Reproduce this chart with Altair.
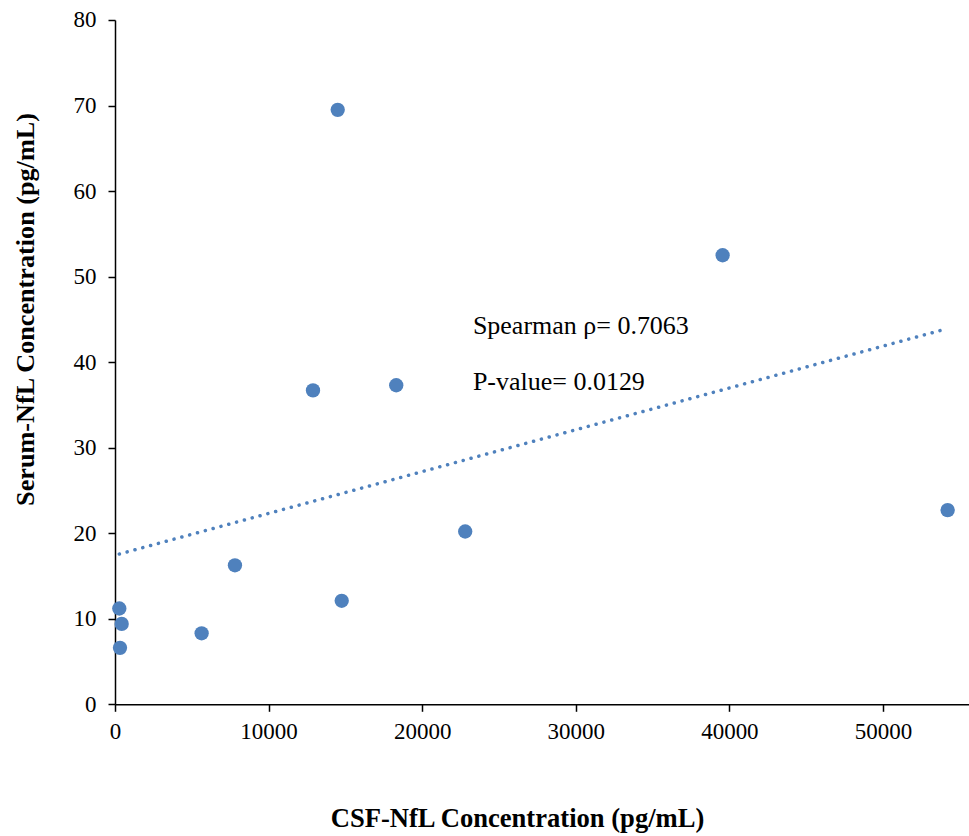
import altair as alt
import pandas as pd

csf = [280, 435, 325, 5640, 7810, 12890, 14500, 14760, 18310, 22800, 39560, 54210]
serum = [11.2, 9.4, 6.6, 8.3, 16.25, 36.7, 69.5, 12.1, 37.3, 20.2, 52.5, 22.7]

ann_text = ["Spearman ρ= 0.7063", "P-value= 0.0129"]
ann_x = [23300, 23300]
ann_y = [43.3, 36.75]

x_ticks = [0, 10000, 20000, 30000, 40000, 50000]
y_ticks = [0, 10, 20, 30, 40, 50, 60, 70, 80]

df = pd.DataFrame({"csf": csf, "serum": serum})
ann = pd.DataFrame({"t": ann_text, "x": ann_x, "y": ann_y})

FONT = "Liberation Serif"
BLUE = "#4F81BD"

xscale = alt.Scale(domain=[0, 55600], nice=False, zero=False)
yscale = alt.Scale(domain=[0, 80], nice=False)

xaxis = alt.Axis(
    values=x_ticks, grid=False, format="d",
    title="CSF-NfL Concentration (pg/mL)",
    titleX=402, titleY=122, titleBaseline="alphabetic", titleAlign="center",
    titleFont=FONT, titleFontSize=26.6, titleFontWeight="bold", titleColor="black",
    labelFont=FONT, labelFontSize=23, labelColor="black", labelPadding=9,
    domainColor="black", domainWidth=1.5, tickColor="black", tickWidth=1.5, tickSize=7,
    labelFlush=False,
)
yaxis = alt.Axis(
    values=y_ticks, grid=False,
    title="Serum-NfL Concentration (pg/mL)",
    titleX=-90, titleY=289, titleAngle=-90, titleBaseline="middle", titleAlign="center",
    titleFont=FONT, titleFontSize=26.2, titleFontWeight="bold", titleColor="black",
    labelFont=FONT, labelFontSize=23, labelColor="black", labelPadding=12,
    domainColor="black", domainWidth=1.5, tickColor="black", tickWidth=1.5, tickSize=7,
)

base = alt.Chart(df)

trend = base.transform_regression("csf", "serum").mark_line(
    color=BLUE, strokeWidth=3.5, strokeDash=[0.1, 8], strokeCap="round"
).encode(
    x=alt.X("csf:Q", scale=xscale, axis=xaxis),
    y=alt.Y("serum:Q", scale=yscale, axis=yaxis),
)

pts = base.mark_circle(color=BLUE, size=205, opacity=1).encode(
    x=alt.X("csf:Q", scale=xscale),
    y=alt.Y("serum:Q", scale=yscale),
)

txt = alt.Chart(ann).mark_text(
    font=FONT, fontSize=26, color="black", align="left", baseline="alphabetic"
).encode(
    x=alt.X("x:Q", scale=xscale),
    y=alt.Y("y:Q", scale=yscale),
    text="t:N",
)

chart = alt.layer(trend, pts, txt).properties(
    width=854, height=684.3,
    autosize=alt.AutoSizeParams(type="none"),
    padding={"left": 115, "top": 20, "right": 0, "bottom": 132},
    background="white",
).configure_view(stroke=None, strokeWidth=0)

chart.save("out.html", embed_options={"renderer": "svg", "actions": False})
